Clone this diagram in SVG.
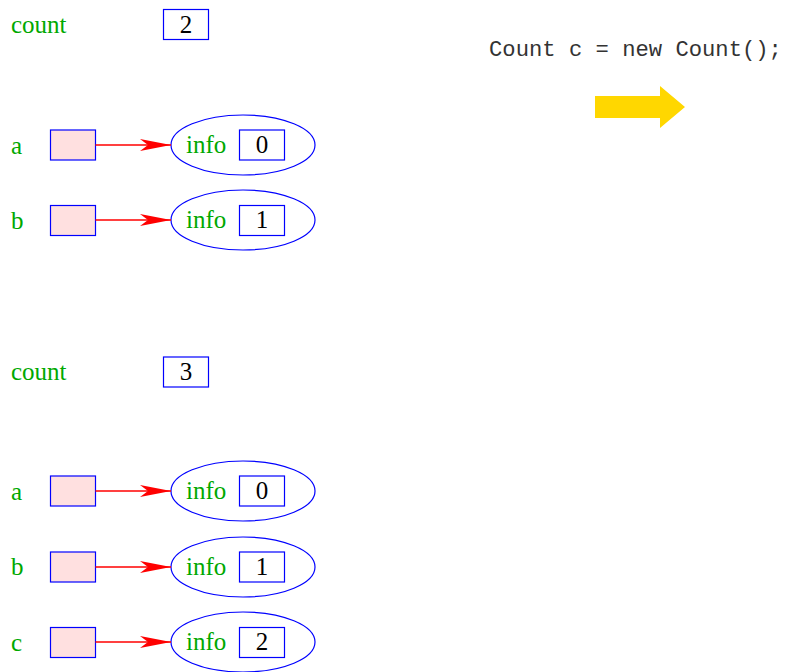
<svg xmlns="http://www.w3.org/2000/svg" width="785" height="672" viewBox="0 0 785 672">
<style>
.lbl{font-family:"Liberation Serif",serif;font-size:25px;fill:#00a800}
.num{font-family:"Liberation Serif",serif;font-size:25px;fill:#000;text-anchor:middle}
.code{font-family:"Liberation Mono",monospace;font-size:22.2px;fill:#333}
.var{fill:#ffe0e0;stroke:#0000ff;stroke-width:1.2}
.box{fill:#fff;stroke:#0000ff;stroke-width:1.2}
.obj{fill:none;stroke:#0000ff;stroke-width:1.2}
.ref{stroke:#ff0000;stroke-width:1.4;fill:none}
</style>
<defs>
<marker id="ah" markerUnits="userSpaceOnUse" markerWidth="32" markerHeight="14" refX="31" refY="6" orient="auto" viewBox="0 0 32 12">
<path d="M0,0 L31,6 L0,12 L8,6 Z" fill="#ff0000"/>
</marker>
</defs>
<g id="code"><text class="code" x="489" y="56">Count c = new Count();</text></g>
<g id="bigarrow"><path d="M595,96 L660,96 L660,86 L685,107 L660,128 L660,118 L595,118 Z" fill="#ffd700"/></g>

<g id="count1"><text class="lbl" x="11" y="33">count</text><rect class="box" x="163.5" y="9.5" width="45" height="30"/><text class="num" x="186" y="33">2</text></g>
<g id="a1"><text class="lbl" x="11" y="154">a</text><rect class="var" x="50.5" y="130" width="45" height="30"/></g>
<g id="obj_a1"><ellipse class="obj" cx="243" cy="145" rx="72" ry="30"/><text class="lbl" x="186" y="153">info</text><rect class="box" x="239.5" y="130" width="45" height="30"/><text class="num" x="262" y="153">0</text></g>
<g id="b1"><text class="lbl" x="11" y="229">b</text><rect class="var" x="50.5" y="205.5" width="45" height="30"/></g>
<g id="obj_b1"><ellipse class="obj" cx="243" cy="220" rx="72" ry="30"/><text class="lbl" x="186" y="228">info</text><rect class="box" x="239.5" y="205.5" width="45" height="30"/><text class="num" x="262" y="228">1</text></g>

<g id="count2"><text class="lbl" x="11" y="380">count</text><rect class="box" x="163.5" y="357" width="45" height="30"/><text class="num" x="186" y="380">3</text></g>
<g id="a2"><text class="lbl" x="11" y="500">a</text><rect class="var" x="50.5" y="476" width="45" height="30"/></g>
<g id="obj_a2"><ellipse class="obj" cx="243" cy="491" rx="72" ry="30"/><text class="lbl" x="186" y="499">info</text><rect class="box" x="239.5" y="476" width="45" height="30"/><text class="num" x="262" y="499">0</text></g>
<g id="b2"><text class="lbl" x="11" y="575">b</text><rect class="var" x="50.5" y="552" width="45" height="30"/></g>
<g id="obj_b2"><ellipse class="obj" cx="243" cy="567" rx="72" ry="30"/><text class="lbl" x="186" y="575">info</text><rect class="box" x="239.5" y="552" width="45" height="30"/><text class="num" x="262" y="575">1</text></g>
<g id="c2"><text class="lbl" x="11" y="651">c</text><rect class="var" x="50.5" y="627.5" width="45" height="30"/></g>
<g id="obj_c2"><ellipse class="obj" cx="243" cy="642" rx="72" ry="30"/><text class="lbl" x="186" y="650">info</text><rect class="box" x="239.5" y="627.5" width="45" height="30"/><text class="num" x="262" y="650">2</text></g>

<g id="connectors">
<line class="ref" x1="95.5" y1="145" x2="171" y2="145" marker-end="url(#ah)"/>
<line class="ref" x1="95.5" y1="220" x2="171" y2="220" marker-end="url(#ah)"/>
<line class="ref" x1="95.5" y1="491" x2="171" y2="491" marker-end="url(#ah)"/>
<line class="ref" x1="95.5" y1="567" x2="171" y2="567" marker-end="url(#ah)"/>
<line class="ref" x1="95.5" y1="642" x2="171" y2="642" marker-end="url(#ah)"/>
</g>
</svg>
